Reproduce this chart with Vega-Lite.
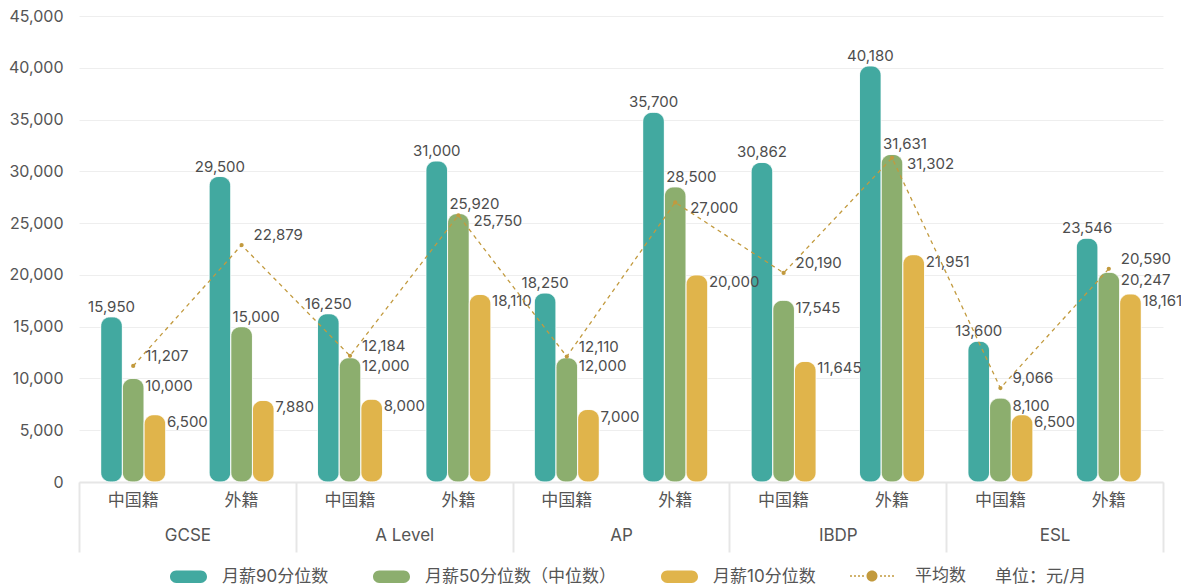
{
  "$schema": "https://vega.github.io/schema/vega-lite/v6.json",
  "width": 1084,
  "height": 466,
  "autosize": {"type": "none"},
  "padding": {"left": 79, "top": 16, "right": 18, "bottom": 106},
  "background": "#ffffff",
  "config": {
    "view": {"stroke": null},
    "font": "Inter, Noto Sans CJK SC",
    "text": {"font": "Inter, Noto Sans CJK SC", "fontSize": 15, "color": "#4d4d4d"},
    "axis": {"labelFont": "Inter, Noto Sans CJK SC", "titleFont": "Inter, Noto Sans CJK SC"},
    "legend": {"labelFont": "Inter, Noto Sans CJK SC", "titleFont": "Inter, Noto Sans CJK SC"}
  },
  "data": {
    "values": [
      {"key": "GCSE|中国籍", "curr": "GCSE", "nat": "中国籍", "月薪90分位数": 15950, "月薪50分位数（中位数）": 10000, "月薪10分位数": 6500, "平均数": 11207},
      {"key": "GCSE|外籍", "curr": "GCSE", "nat": "外籍", "月薪90分位数": 29500, "月薪50分位数（中位数）": 15000, "月薪10分位数": 7880, "平均数": 22879},
      {"key": "A Level|中国籍", "curr": "A Level", "nat": "中国籍", "月薪90分位数": 16250, "月薪50分位数（中位数）": 12000, "月薪10分位数": 8000, "平均数": 12184},
      {"key": "A Level|外籍", "curr": "A Level", "nat": "外籍", "月薪90分位数": 31000, "月薪50分位数（中位数）": 25920, "月薪10分位数": 18110, "平均数": 25750},
      {"key": "AP|中国籍", "curr": "AP", "nat": "中国籍", "月薪90分位数": 18250, "月薪50分位数（中位数）": 12000, "月薪10分位数": 7000, "平均数": 12110},
      {"key": "AP|外籍", "curr": "AP", "nat": "外籍", "月薪90分位数": 35700, "月薪50分位数（中位数）": 28500, "月薪10分位数": 20000, "平均数": 27000},
      {"key": "IBDP|中国籍", "curr": "IBDP", "nat": "中国籍", "月薪90分位数": 30862, "月薪50分位数（中位数）": 17545, "月薪10分位数": 11645, "平均数": 20190},
      {"key": "IBDP|外籍", "curr": "IBDP", "nat": "外籍", "月薪90分位数": 40180, "月薪50分位数（中位数）": 31631, "月薪10分位数": 21951, "平均数": 31302},
      {"key": "ESL|中国籍", "curr": "ESL", "nat": "中国籍", "月薪90分位数": 13600, "月薪50分位数（中位数）": 8100, "月薪10分位数": 6500, "平均数": 9066},
      {"key": "ESL|外籍", "curr": "ESL", "nat": "外籍", "月薪90分位数": 23546, "月薪50分位数（中位数）": 20247, "月薪10分位数": 18161, "平均数": 20590}
    ]
  },
  "layer": [
    {
      "transform": [
        {"fold": ["月薪90分位数", "月薪50分位数（中位数）", "月薪10分位数"], "as": ["series", "value"]}
      ],
      "encoding": {
        "x": {
          "field": "key", "type": "nominal",
          "scale": {"type": "band", "domain": ["GCSE|中国籍", "GCSE|外籍", "A Level|中国籍", "A Level|外籍", "AP|中国籍", "AP|外籍", "IBDP|中国籍", "IBDP|外籍", "ESL|中国籍", "ESL|外籍"], "paddingInner": 0, "paddingOuter": 0},
          "axis": {"orient": "bottom", "title": null, "labelExpr": "split(datum.value, '|')[1]", "ticks": false, "tickSize": 0, "domain": true, "domainColor": "#e6e6e6", "domainWidth": 2, "labelPadding": 10, "labelFontSize": 17, "labelColor": "#555555", "labelAngle": 0, "grid": false}
        }
      },
      "layer": [
        {
          "mark": {"type": "bar", "cornerRadius": 9.75, "stroke": "#ffffff", "strokeWidth": 0.6},
          "encoding": {
            "xOffset": {"field": "series", "type": "nominal", "scale": {"domain": ["月薪90分位数", "月薪50分位数（中位数）", "月薪10分位数"], "paddingInner": 0, "paddingOuter": 1.28}},
            "y": {
              "field": "value", "type": "quantitative",
              "scale": {"domain": [0, 45000], "nice": false},
              "axis": {"title": null, "values": [0, 5000, 10000, 15000, 20000, 25000, 30000, 35000, 40000, 45000], "labelExpr": "format(datum.value, ',')", "domain": false, "ticks": false, "labelPadding": 16, "labelFontSize": 16, "labelColor": "#555555", "gridColor": "#eeeeee", "gridWidth": 1}
            },
            "color": {
              "field": "series", "type": "nominal",
              "scale": {"domain": ["月薪90分位数", "月薪50分位数（中位数）", "月薪10分位数"], "range": ["#42A9A0", "#8CAE6E", "#E0B44B"]},
              "legend": {"orient": "none", "legendX": 91, "legendY": 542, "direction": "horizontal", "title": null,
                "symbolType": "M-0.667,-0.333L0.667,-0.333A0.333,0.333,0,0,1,0.667,0.333L-0.667,0.333A0.333,0.333,0,0,1,-0.667,-0.333Z",
                "symbolSize": 1369, "symbolStrokeWidth": 0, "symbolOpacity": 1, "labelFontSize": 17, "labelColor": "#555555", "labelOffset": 15, "columnPadding": 44, "labelLimit": 400}
            }
          }
        },
        {
          "transform": [{"filter": "datum.series === '月薪90分位数'"}],
          "mark": {"type": "text", "align": "center", "baseline": "alphabetic", "dy": -5},
          "encoding": {
            "xOffset": {"field": "series", "type": "nominal", "scale": {"domain": ["月薪90分位数", "月薪50分位数（中位数）", "月薪10分位数"], "paddingInner": 0, "paddingOuter": 1.28}},
            "y": {"field": "value", "type": "quantitative"},
            "text": {"field": "value", "type": "quantitative", "format": ","}
          }
        },
        {
          "transform": [{"filter": "datum.series === '月薪50分位数（中位数）' && datum.value < datum['平均数'] && datum['平均数'] - datum.value < 5000"}],
          "mark": {"type": "text", "align": "left", "baseline": "middle", "dx": 12, "dy": 8},
          "encoding": {
            "xOffset": {"field": "series", "type": "nominal", "scale": {"domain": ["月薪90分位数", "月薪50分位数（中位数）", "月薪10分位数"], "paddingInner": 0, "paddingOuter": 1.28}},
            "y": {"field": "value", "type": "quantitative"},
            "text": {"field": "value", "type": "quantitative", "format": ","}
          }
        },
        {
          "transform": [{"filter": "datum.series === '月薪50分位数（中位数）' && (datum.value > datum['平均数'] || datum['平均数'] - datum.value >= 5000)"}],
          "mark": {"type": "text", "align": "left", "baseline": "alphabetic", "dx": -9, "dy": -5},
          "encoding": {
            "xOffset": {"field": "series", "type": "nominal", "scale": {"domain": ["月薪90分位数", "月薪50分位数（中位数）", "月薪10分位数"], "paddingInner": 0, "paddingOuter": 1.28}},
            "y": {"field": "value", "type": "quantitative"},
            "text": {"field": "value", "type": "quantitative", "format": ","}
          }
        },
        {
          "transform": [{"filter": "datum.series === '月薪10分位数'"}],
          "mark": {"type": "text", "align": "left", "baseline": "middle", "dx": 12, "dy": 7},
          "encoding": {
            "xOffset": {"field": "series", "type": "nominal", "scale": {"domain": ["月薪90分位数", "月薪50分位数（中位数）", "月薪10分位数"], "paddingInner": 0, "paddingOuter": 1.28}},
            "y": {"field": "value", "type": "quantitative"},
            "text": {"field": "value", "type": "quantitative", "format": ","}
          }
        },
        {
          "transform": [{"filter": "datum.series === '月薪90分位数'"}],
          "mark": {"type": "line", "stroke": "#C29A3E", "strokeWidth": 1.3, "strokeDash": [4, 4]},
          "encoding": {
            "y": {"field": "平均数", "type": "quantitative"}
          }
        },
        {
          "transform": [{"filter": "datum.series === '月薪90分位数'"}],
          "mark": {"type": "circle", "size": 18, "opacity": 1},
          "encoding": {
            "y": {"field": "平均数", "type": "quantitative"},
            "fill": {
              "datum": "平均数", "type": "nominal",
              "scale": {"range": ["#C29A3E"]},
              "legend": {"orient": "none", "legendX": 770, "legendY": 537, "title": "单位：元/月", "titleOrient": "right", "titlePadding": 29, "titleFontSize": 17, "titleFontWeight": "normal", "titleColor": "#555555", "titleBaseline": "top",
                "symbolType": "M-0.957,-0.035H-0.870V0.035H-0.957Z M-0.783,-0.035H-0.696V0.035H-0.783Z M-0.609,-0.035H-0.522V0.035H-0.609Z M-0.435,-0.035H-0.348V0.035H-0.435Z M0.348,-0.035H0.435V0.035H0.348Z M0.522,-0.035H0.609V0.035H0.522Z M0.696,-0.035H0.783V0.035H0.696Z M0.870,-0.035H0.957V0.035H0.870Z M-0.239,0A0.239,0.239,0,1,0,0.239,0A0.239,0.239,0,1,0,-0.239,0Z",
                "symbolSize": 2116, "symbolStrokeWidth": 0, "symbolOpacity": 1, "labelFontSize": 17, "labelColor": "#555555", "labelOffset": 20}
            }
          }
        },
        {
          "transform": [{"filter": "datum.series === '月薪90分位数' && datum['月薪50分位数（中位数）'] <= datum['平均数']"}],
          "mark": {"type": "text", "align": "left", "baseline": "middle", "dx": 12, "dy": -10},
          "encoding": {
            "y": {"field": "平均数", "type": "quantitative"},
            "text": {"field": "平均数", "type": "quantitative", "format": ","}
          }
        },
        {
          "transform": [{"filter": "datum.series === '月薪90分位数' && datum['月薪50分位数（中位数）'] > datum['平均数']"}],
          "mark": {"type": "text", "align": "left", "baseline": "middle", "dx": 15, "dy": 6},
          "encoding": {
            "y": {"field": "平均数", "type": "quantitative"},
            "text": {"field": "平均数", "type": "quantitative", "format": ","}
          }
        }
      ]
    },
    {
      "mark": {"type": "point", "opacity": 0},
      "encoding": {
        "x": {
          "field": "curr", "type": "nominal",
          "scale": {"type": "band", "domain": ["GCSE", "A Level", "AP", "IBDP", "ESL"], "paddingInner": 0, "paddingOuter": 0},
          "axis": {"orient": "bottom", "title": null, "domain": false, "ticks": true, "tickBand": "extent", "tickSize": 70, "tickColor": "#e6e6e6", "tickWidth": 2, "labelPadding": -25, "labelFontSize": 17, "labelColor": "#555555", "labelAngle": 0, "grid": false}
        }
      }
    }
  ],
  "resolve": {"scale": {"x": "independent"}, "axis": {"x": "independent"}}
}
